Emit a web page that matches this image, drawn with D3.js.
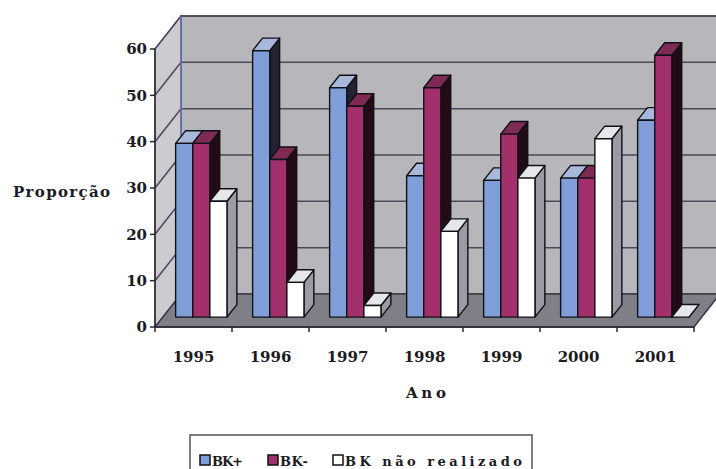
<!DOCTYPE html>
<html>
<head>
<meta charset="utf-8">
<script src="https://cdn.jsdelivr.net/npm/d3@7/dist/d3.min.js"></script>
<style>
  html, body { margin: 0; padding: 0; background: #ffffff; }
  svg { display: block; }
  text { font-family: "DejaVu Serif", "Liberation Serif", serif; font-weight: bold; fill: #1c1a22; }
</style>
</head>
<body>
<svg id="chart" width="716" height="469"></svg>
<script>
// Years on the category axis
const years = ["1995", "1996", "1997", "1998", "1999", "2000", "2001"];
// Series names (legend order)
const seriesNames = ["BK+", "BK-", "BK não realizado"];
// Proportions per year for each series
const bkPos = [37.5, 57.5, 49.5, 30.5, 29.5, 30, 42.5];
const bkNeg = [37.5, 34, 45.5, 49.5, 39.5, 30, 56.5];
const bkNaoRealizado = [25, 7.5, 2.5, 18.5, 30, 38.5, 0];
// Value axis ticks
const yTicks = [0, 10, 20, 30, 40, 50, 60];

const seriesValues = [bkPos, bkNeg, bkNaoRealizado];
const faceColors = [
  { front: "#809fd9", top: "#a7b8da", side: "#222233" },
  { front: "#a1306b", top: "#7d2a55", side: "#220a16" },
  { front: "#ffffff", top: "#e6e6ec", side: "#9c9aa4" }
];

const svg = d3.select("#chart");

// Front plane of the 3D box
const x0 = 155, x1 = 694;
const x = d3.scaleBand().domain(years).range([x0, x1]).paddingInner(0).paddingOuter(0);
const y = d3.scaleLinear().domain([0, 60]).range([327, 49]);
const xs = d3.scaleBand().domain(seriesNames).range([0, x.bandwidth()])
  .paddingInner(0).paddingOuter(0.75);

// Depth vector of the box (front -> back)
const DX = 26, DY = -33;
const P = (px, v, z) => [px + z * DX, y(v) + z * DY];

// Walls and floor
const side = [P(x0, 0, 0), P(x0, 60, 0), P(x0, 60, 1), P(x0, 0, 1)];
const back = [P(x0, 0, 1), P(x0, 60, 1), P(x1, 60, 1), P(x1, 0, 1)];
const floor = [P(x0, 0, 0), P(x1, 0, 0), P(x1, 0, 1), P(x0, 0, 1)];
const line = d3.line();
const poly = pts => line(pts) + "Z";

svg.append("path").attr("d", poly(back)).attr("fill", "#b6b6bb").attr("stroke", "#4c4858").attr("stroke-width", 1.5);
svg.append("path").attr("d", poly(side)).attr("fill", "#cbcbd0").attr("stroke", "#4c4858").attr("stroke-width", 1.2);
svg.append("path").attr("d", poly(floor)).attr("fill", "#7f7f88").attr("stroke", "#3a3840").attr("stroke-width", 1.5);

// Gridlines on side and back walls
const grid = svg.append("g").attr("fill", "none").attr("stroke", "#4c4858").attr("stroke-width", 1.5);
yTicks.filter(t => t > 0).forEach(t => {
  grid.append("path").attr("d", line([P(x0, t, 0), P(x0, t, 1), P(x1, t, 1)]));
});
// Left edge of back wall
svg.append("path").attr("d", line([P(x0, 0, 1), P(x0, 60, 1)]))
  .attr("stroke", "#6a78a8").attr("stroke-width", 1.5);

// Bars
const zf = 0.3, zd = 0.38;
const bars = svg.append("g").attr("stroke", "#111016").attr("stroke-width", 1.4).attr("stroke-linejoin", "round");
years.forEach((yr, i) => {
  seriesNames.forEach((s, k) => {
    const v = seriesValues[k][i];
    const L = x(yr) + xs(s), R = L + xs.bandwidth();
    const c = faceColors[k];
    const fbl = P(L, 0, zf), fbr = P(R, 0, zf), ftl = P(L, v, zf), ftr = P(R, v, zf);
    const btl = P(L, v, zf + zd), btr = P(R, v, zf + zd), bbr = P(R, 0, zf + zd);
    bars.append("path").attr("d", poly([fbr, ftr, btr, bbr])).attr("fill", c.side);
    bars.append("path").attr("d", poly([ftl, ftr, btr, btl])).attr("fill", c.top);
    if (v > 0) bars.append("path").attr("d", poly([fbl, ftl, ftr, fbr])).attr("fill", c.front);
  });
});

// Value axis on the front-left edge
const axisG = svg.append("g").attr("stroke", "#2a2830").attr("stroke-width", 1.5);
axisG.append("line").attr("x1", x0).attr("x2", x0).attr("y1", y(0)).attr("y2", y(60));
yTicks.forEach(t => {
  axisG.append("line").attr("x1", x0 - 5).attr("x2", x0).attr("y1", y(t)).attr("y2", y(t));
  svg.append("text").attr("x", 147).attr("y", y(t)).attr("dy", "0.36em")
    .attr("text-anchor", "end").attr("font-size", 15)
    .text(t);
});

// Category axis on the front-bottom edge
axisG.append("line").attr("x1", x0).attr("x2", x1).attr("y1", y(0)).attr("y2", y(0));
x.domain().concat([null]).forEach(yr => {
  const px = yr === null ? x1 : x(yr);
  axisG.append("line").attr("x1", px).attr("x2", px).attr("y1", y(0)).attr("y2", y(0) + 5);
});
years.forEach(yr => {
  svg.append("text").attr("x", x(yr) + x.bandwidth() / 2).attr("y", 362)
    .attr("text-anchor", "middle").attr("font-size", 15)
    .text(yr);
});

// Axis titles
svg.append("text").attr("x", 13).attr("y", 197).attr("font-size", 15)
  .attr("textLength", 97).attr("lengthAdjust", "spacing").text("Proporção");
svg.append("text").attr("x", 406).attr("y", 398).attr("font-size", 15)
  .attr("textLength", 40).attr("lengthAdjust", "spacing").text("Ano");

// Legend
const lg = svg.append("g");
lg.append("rect").attr("x", 190).attr("y", 435).attr("width", 342).attr("height", 44)
  .attr("fill", "#ffffff").attr("stroke", "#55535c").attr("stroke-width", 1.5);
const legendItems = [
  { sx: 200, tx: 212, tw: 31 },
  { sx: 268, tx: 280, tw: 28 },
  { sx: 333, tx: 345, tw: 177 }
];
seriesNames.forEach((s, k) => {
  const it = legendItems[k];
  lg.append("rect").attr("x", it.sx).attr("y", 455).attr("width", 10).attr("height", 10)
    .attr("fill", faceColors[k].front).attr("stroke", "#111016").attr("stroke-width", 1.5);
  lg.append("text").attr("x", it.tx).attr("y", 466).attr("font-size", 13)
    .attr("textLength", it.tw).attr("lengthAdjust", "spacing").text(s);
});
</script>
</body>
</html>
